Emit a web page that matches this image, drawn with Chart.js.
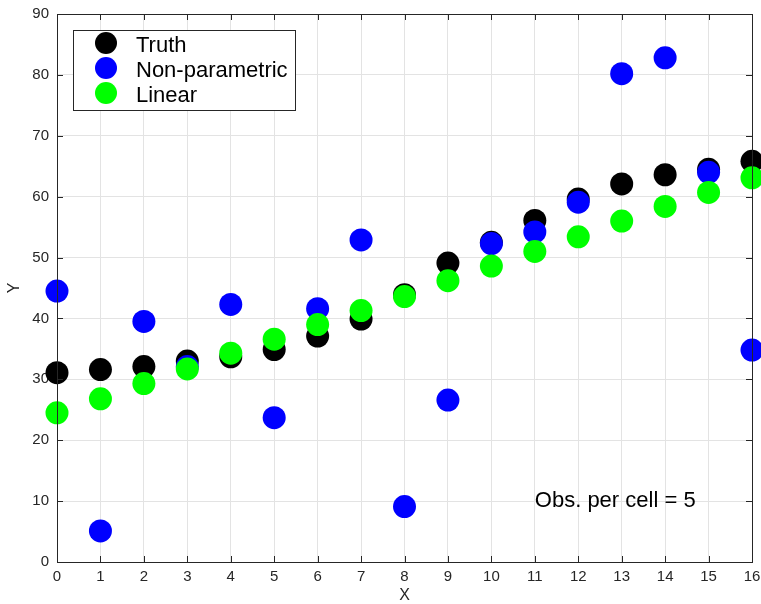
<!DOCTYPE html>
<html>
<head>
<meta charset="utf-8">
<script src="https://cdn.jsdelivr.net/npm/chart.js@4/dist/chart.umd.min.js"></script>
<style>
  html, body { margin: 0; padding: 0; background: #fff; }
  #wrap { width: 761px; height: 604px; }
</style>
</head>
<body>
<div id="wrap"><canvas id="chart" width="761" height="604"></canvas></div>
<script>
// ── Data ─────────────────────────────────────────────────────────────────────
const xCells = [0, 1, 2, 3, 4, 5, 6, 7, 8, 9, 10, 11, 12, 13, 14, 15, 16];
const truthY = [31.1, 31.6, 32.1, 33.0, 33.7, 34.9, 37.1, 39.9, 43.9, 49.1, 52.5, 56.1, 59.6, 62.1, 63.6, 64.5, 65.8];
const nonParamY = [44.5, 5.1, 39.5, 32.1, 42.3, 23.7, 41.6, 52.9, 9.1, 26.6, 52.3, 54.2, 59.1, 80.2, 82.8, 64.0, 34.8];
const linearY = [24.5, 26.8, 29.3, 31.7, 34.3, 36.6, 39.0, 41.3, 43.6, 46.2, 48.6, 51.0, 53.4, 56.0, 58.4, 60.7, 63.1];
const seriesNames = ['Truth', 'Non-parametric', 'Linear'];
const seriesColors = ['#000000', '#0000ff', '#00ff00'];
const annotationText = 'Obs. per cell = 5';

const FONT = 'Liberation Sans, Arial, Helvetica, sans-serif';
const AXIS_COLOR = '#262626';

function toPoints(ys) {
    return xCells.map((x, i) => ({ x, y: ys[i] }));
}

// ── Frame, inward ticks, legend, annotation ──────────────────────────────────
const matlabFramePlugin = {
    id: 'matlabFrame',
    afterDraw(chart) {
        const { ctx, chartArea: a, scales } = chart;
        const xs = scales.x;
        const ys = scales.y;
        ctx.save();

        // box
        ctx.strokeStyle = AXIS_COLOR;
        ctx.lineWidth = 1;
        ctx.strokeRect(Math.round(a.left) + 0.5, Math.round(a.top) + 0.5,
            Math.round(a.right - a.left), Math.round(a.bottom - a.top));

        // inward tick marks
        const tl = 6;
        ctx.beginPath();
        xs.ticks.forEach((t) => {
            const px = Math.round(xs.getPixelForValue(t.value)) + 0.5;
            ctx.moveTo(px, a.bottom); ctx.lineTo(px, a.bottom - tl);
            ctx.moveTo(px, a.top); ctx.lineTo(px, a.top + tl);
        });
        ys.ticks.forEach((t) => {
            const py = Math.round(ys.getPixelForValue(t.value)) + 0.5;
            ctx.moveTo(a.left, py); ctx.lineTo(a.left + tl, py);
            ctx.moveTo(a.right, py); ctx.lineTo(a.right - tl, py);
        });
        ctx.stroke();

        // annotation
        ctx.fillStyle = '#000';
        ctx.font = `22px ${FONT}`;
        ctx.textAlign = 'left';
        ctx.textBaseline = 'alphabetic';
        ctx.fillText(annotationText, xs.getPixelForValue(11), ys.getPixelForValue(9.0));

        // legend
        const lx = a.left + 16;
        const ly = a.top + 16;
        const lw = 222;
        const lh = 80;
        ctx.fillStyle = '#fff';
        ctx.fillRect(lx, ly, lw, lh);
        ctx.strokeStyle = AXIS_COLOR;
        ctx.strokeRect(Math.round(lx) + 0.5, Math.round(ly) + 0.5, lw, lh);
        seriesNames.forEach((name, i) => {
            const cy = ly + 13 + i * 25;
            ctx.beginPath();
            ctx.fillStyle = seriesColors[i];
            ctx.arc(lx + 33, cy, 11, 0, Math.PI * 2);
            ctx.fill();
            ctx.fillStyle = '#000';
            ctx.fillText(name, lx + 63, cy + 8.5);
        });

        ctx.restore();
    },
};

// ── Chart ────────────────────────────────────────────────────────────────────
const tickFont = { family: FONT, size: 15, lineHeight: 1 };
const titleFont = { family: FONT, size: 16, lineHeight: 1 };
const allSeries = [truthY, nonParamY, linearY];

new Chart(document.getElementById('chart'), {
    type: 'scatter',
    data: {
        datasets: allSeries.map((ys, i) => ({
            label: seriesNames[i],
            data: toPoints(ys),
            backgroundColor: seriesColors[i],
            borderWidth: 0,
            pointRadius: 11.5,
            pointHoverRadius: 11.5,
            clip: false,
            order: allSeries.length - i,
        })),
    },
    options: {
        responsive: false,
        animation: false,
        layout: { autoPadding: false, padding: { left: 7, right: 9, top: 14, bottom: 0 } },
        plugins: {
            legend: { display: false },
            tooltip: { enabled: false },
        },
        scales: {
            x: {
                type: 'linear',
                min: 0,
                max: 16,
                afterFit(s) { s.height = 42; s.paddingLeft = 0; s.paddingRight = 0; },
                ticks: { stepSize: 1, padding: 7, color: AXIS_COLOR, font: tickFont },
                grid: { color: '#e3e3e3', drawTicks: false },
                border: { display: false },
                title: { display: true, text: 'X', color: AXIS_COLOR, font: titleFont, padding: { top: 0, bottom: 0 } },
            },
            y: {
                type: 'linear',
                min: 0,
                max: 90,
                afterFit(s) { s.width = 50; s.paddingTop = 0; s.paddingBottom = 0; },
                ticks: { stepSize: 10, padding: 8, color: AXIS_COLOR, font: tickFont },
                grid: { color: '#e3e3e3', drawTicks: false },
                border: { display: false },
                title: { display: true, text: 'Y', color: AXIS_COLOR, font: titleFont, padding: { top: 0, bottom: 0 } },
            },
        },
    },
    plugins: [matlabFramePlugin],
});
</script>
</body>
</html>
